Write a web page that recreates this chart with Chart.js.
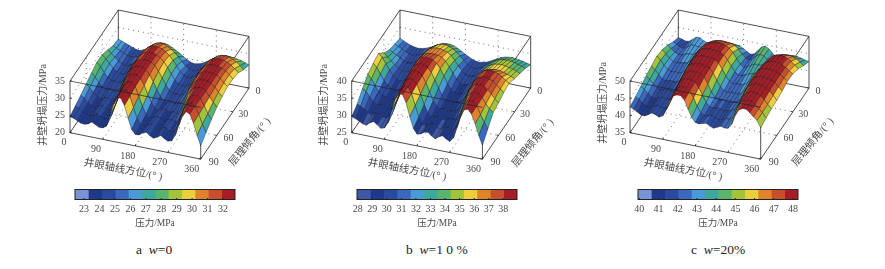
<!DOCTYPE html>
<html>
<head>
<meta charset="utf-8">
<script src="https://cdn.jsdelivr.net/npm/chart.js@4"></script>
<style>
    html, body { margin: 0; background: #fff; overflow: hidden; }
    #page { position: relative; width: 885px; height: 269px; }
    #page canvas { position: absolute; filter: blur(0.3px); }
    .caption { position: absolute; top: 242px; font: 13.5px "Liberation Serif", serif; color: #222; white-space: pre; }
    .caption i { font-style: italic; }
</style>
</head>
<body>
<div id="page"></div>
<script>
// Grid of the surfaces, degrees
const azimuths = [0, 10, 20, 30, 40, 50, 60, 70, 80, 90, 100, 110, 120, 130, 140, 150, 160, 170, 180,
    190, 200, 210, 220, 230, 240, 250, 260, 270, 280, 290, 300, 310, 320, 330, 340, 350, 360];
const dips = [0, 10, 20, 30, 40, 50, 60, 70, 80, 90];

const azimuthTicks = [0, 90, 180, 270, 360];
const dipTicks = [0, 30, 60, 90];

// Collapse pressure, one row per dip, MPa
const pressureA = [
    [26.6,26.2,25.8,25.4,25.0,24.6,24.5,24.9,25.6,26.4,27.1,27.6,27.9,28.0,27.7,27.2,26.6,26.0,25.3,24.6,24.1,23.9,24.1,24.4,25.0,25.7,26.4,27.0,27.5,27.8,28.0,28.0,27.9,27.7,27.5,27.1,26.7],
    [26.9,26.4,25.9,25.4,25.0,24.8,24.8,25.2,26.2,27.4,28.6,29.6,30.2,30.5,30.4,29.9,29.3,28.5,27.5,26.4,25.3,24.6,24.3,24.6,25.2,26.1,27.2,28.4,29.4,30.1,30.5,30.6,30.4,30.0,29.4,28.6,27.6],
    [28.0,27.2,26.3,25.4,24.8,24.5,24.7,25.5,26.8,28.4,29.9,31.0,31.6,31.9,31.8,31.5,30.9,30.0,28.8,27.4,26.0,25.0,24.6,24.8,25.4,26.6,28.1,29.6,30.8,31.5,31.9,32.0,31.8,31.4,30.8,30.0,29.0],
    [28.9,27.9,26.7,25.6,24.8,24.4,24.5,25.2,26.7,28.6,30.4,31.5,32.0,32.3,32.3,32.0,31.4,30.4,29.0,27.3,25.8,24.8,24.4,24.6,25.2,26.5,28.3,30.0,31.3,32.0,32.3,32.4,32.3,32.0,31.4,30.5,29.5],
    [29.0,27.9,26.4,25.2,24.4,24.6,24.3,24.9,26.3,28.5,30.6,31.8,32.3,32.5,32.5,32.2,31.4,30.0,28.2,26.4,25.0,24.3,24.5,24.2,24.9,26.1,28.0,30.0,31.5,32.2,32.5,32.6,32.5,32.2,31.5,30.5,29.6],
    [28.2,27.2,25.8,24.7,24.0,24.6,24.2,24.5,25.6,27.8,30.2,31.8,32.4,32.7,32.7,32.2,31.0,29.2,27.2,25.4,24.3,24.0,24.5,24.1,24.5,25.2,27.0,29.2,31.0,32.1,32.6,32.7,32.6,32.2,31.2,30.0,29.0],
    [27.2,26.4,25.2,24.3,23.7,24.3,24.4,23.9,24.6,26.4,29.0,31.2,32.4,32.8,32.8,32.0,30.2,27.8,25.7,24.3,23.8,24.4,24.5,24.0,24.4,23.9,25.2,27.4,29.8,31.6,32.5,32.8,32.8,32.2,30.8,29.4,28.2],
    [26.3,25.6,24.6,23.8,23.4,24.1,24.5,23.8,23.6,24.4,26.8,29.8,32.0,33.0,33.0,31.9,29.4,26.6,24.5,23.6,24.1,24.6,24.2,23.6,24.3,24.5,24.0,24.8,27.2,30.0,32.0,32.9,33.0,32.3,30.4,28.4,26.9],
    [25.5,24.9,24.2,23.5,23.4,23.9,24.5,23.8,23.4,23.5,25.0,28.2,31.4,33.0,33.0,31.4,28.4,25.5,23.9,23.5,24.2,24.7,23.9,23.4,24.1,24.5,23.6,23.8,25.2,28.2,31.0,32.7,33.1,32.4,30.2,27.6,25.4],
    [24.6,24.4,23.9,23.4,23.3,23.6,24.4,23.8,23.3,23.3,24.0,27.2,30.8,33.0,33.0,31.0,27.6,24.5,23.3,23.4,24.2,24.6,23.8,23.3,23.8,24.5,23.8,23.3,23.6,25.4,28.6,31.4,32.9,32.4,30.0,26.6,23.9]
];
const pressureB = [
    [31.8,31.3,30.8,30.4,30.1,30.0,30.1,30.4,30.8,31.3,31.9,32.4,32.8,33.0,33.0,32.7,32.2,31.6,31.0,30.4,29.9,29.6,29.5,29.7,30.0,30.5,31.1,31.7,32.2,32.5,32.7,32.8,32.7,32.5,32.3,32.0,31.8],
    [32.4,31.9,31.4,30.8,30.4,30.2,30.4,30.8,31.5,32.4,33.4,34.2,34.8,35.1,35.1,34.9,34.4,33.7,32.8,31.7,30.8,30.2,30.0,30.2,30.6,31.4,32.2,33.0,33.6,34.0,34.2,34.3,34.2,34.0,33.7,33.4,33.0],
    [33.0,32.5,31.9,31.3,30.7,30.3,30.4,30.9,31.9,33.3,34.6,35.6,36.1,36.3,36.3,36.1,35.7,35.0,33.8,32.4,31.2,30.3,30.0,30.2,30.8,31.8,32.9,33.9,34.6,35.0,35.2,35.3,35.1,34.9,34.6,34.3,33.8],
    [34.4,33.4,32.5,31.6,30.8,30.2,30.2,30.7,31.9,33.6,35.2,36.3,36.8,37.0,37.0,36.9,36.5,35.6,34.2,32.5,31.1,30.1,29.8,30.0,30.7,31.8,33.2,34.4,35.3,35.8,36.0,36.1,36.0,35.8,35.4,35.0,34.6],
    [36.6,35.6,34.0,32.4,31.0,30.0,29.8,30.2,31.3,33.2,35.5,37.2,38.0,38.2,38.2,37.9,37.1,35.7,33.8,31.8,30.3,29.6,29.4,29.7,30.3,31.5,33.3,35.3,36.8,37.6,38.0,38.1,38.0,37.6,37.0,36.2,35.6],
    [36.0,35.0,33.3,31.6,30.3,29.7,29.5,29.7,30.6,32.6,35.2,37.3,38.3,38.6,38.5,37.9,36.7,34.8,32.6,30.7,29.7,29.5,29.2,29.6,30.0,31.0,32.8,35.0,36.9,37.9,38.4,38.5,38.3,37.7,36.9,35.9,35.2],
    [35.0,34.0,32.2,30.7,29.7,29.6,29.3,29.4,30.0,31.6,34.4,37.0,38.4,38.8,38.6,37.8,36.0,33.6,31.2,29.8,29.2,29.5,29.0,29.4,29.6,30.2,31.8,34.0,36.4,37.9,38.5,38.7,38.4,37.6,36.6,35.4,34.4],
    [33.2,32.6,31.2,30.0,29.2,29.7,29.4,28.9,29.2,30.4,33.0,36.0,38.2,38.9,38.8,37.6,35.0,32.2,29.9,28.9,29.3,29.7,29.0,29.0,29.6,29.7,30.0,31.9,34.6,37.1,38.3,38.8,38.6,37.5,36.0,34.8,33.9],
    [31.0,30.6,29.9,29.2,28.6,29.4,29.5,28.8,28.6,29.3,31.2,34.8,37.8,39.0,38.9,37.2,34.0,30.8,29.0,28.7,29.4,29.7,28.9,28.5,29.3,29.5,29.0,29.8,32.2,35.4,37.6,38.6,38.7,37.4,35.2,33.2,31.4],
    [29.6,29.3,28.8,28.2,28.0,28.9,29.5,28.8,28.0,28.3,30.0,33.8,37.4,39.2,39.0,36.8,33.0,29.8,28.4,28.7,29.4,29.6,28.7,28.1,28.9,29.4,28.7,28.2,29.4,32.6,36.0,38.2,38.6,37.4,34.8,31.6,29.0]
];
const pressureC = [
    [42.0,41.8,41.4,41.6,42.4,43.2,43.2,42.6,42.2,42.3,42.5,42.8,43.0,43.2,43.3,43.3,43.3,43.2,42.6,41.9,41.4,41.8,43.0,44.2,44.6,44.0,43.0,41.9,41.6,42.2,43.0,43.4,43.5,43.4,43.2,42.9,42.7],
    [43.0,42.5,41.9,41.8,42.4,43.2,43.3,43.0,43.2,43.9,44.8,45.6,46.0,46.2,46.2,46.1,46.0,45.6,44.8,43.6,42.6,42.2,42.9,43.9,44.5,44.2,43.5,43.4,44.0,45.0,45.7,45.9,45.9,45.7,45.3,44.6,43.8],
    [44.4,43.6,42.7,42.3,42.4,42.9,43.1,43.1,43.9,45.2,46.5,47.4,47.8,48.0,48.0,47.9,47.6,47.1,46.1,44.5,43.1,42.4,42.7,43.4,44.0,44.0,44.0,45.0,46.4,47.4,47.9,48.0,47.9,47.5,46.9,46.0,45.2],
    [45.3,44.4,43.3,42.6,42.4,42.6,42.8,43.0,44.0,45.6,47.0,47.9,48.2,48.3,48.3,48.2,47.9,47.4,46.2,44.6,43.2,42.4,42.5,43.0,43.4,43.6,44.2,45.6,47.2,48.0,48.3,48.4,48.3,48.0,47.4,46.6,46.0],
    [45.8,44.8,43.5,42.5,42.1,42.3,42.2,42.5,43.6,45.5,47.3,48.2,48.4,48.5,48.5,48.4,48.1,47.3,45.8,44.0,42.8,42.2,42.4,42.4,42.7,43.3,44.6,46.3,47.7,48.3,48.5,48.5,48.4,48.2,47.7,46.9,46.2],
    [45.2,44.3,43.1,42.1,41.7,42.0,42.0,42.0,43.0,44.9,47.0,48.1,48.5,48.6,48.6,48.4,47.9,46.7,44.9,43.2,42.2,42.0,42.2,42.1,42.2,42.8,44.0,45.9,47.5,48.3,48.6,48.6,48.5,48.2,47.6,46.6,45.6],
    [44.6,43.8,42.7,41.8,41.4,41.8,41.9,41.7,42.4,44.2,46.6,48.0,48.5,48.7,48.7,48.4,47.6,45.8,43.8,42.4,41.9,42.1,42.0,41.9,42.0,42.4,43.4,45.4,47.3,48.2,48.6,48.7,48.6,48.2,47.5,46.4,45.2],
    [43.8,43.2,42.2,41.4,41.0,41.6,42.0,41.6,41.8,43.2,45.8,47.8,48.5,48.7,48.7,48.3,46.9,44.9,43.0,42.0,41.8,42.2,41.9,41.5,41.9,42.2,42.6,44.3,46.6,48.0,48.6,48.7,48.6,48.1,47.2,46.1,45.0],
    [43.1,42.6,41.8,41.0,40.8,41.4,42.0,41.6,41.5,42.4,44.8,47.3,48.4,48.7,48.7,48.0,46.2,44.0,42.3,41.7,41.8,42.2,41.7,41.3,41.7,42.2,42.1,43.2,45.6,47.6,48.4,48.7,48.6,47.9,46.9,46.0,44.6],
    [42.5,42.0,41.4,40.8,40.7,41.3,42.0,41.7,41.2,41.8,43.8,46.8,48.3,48.7,48.7,47.6,45.2,43.0,41.8,41.6,41.9,42.2,41.6,41.2,41.7,42.2,41.9,42.0,43.4,46.2,48.0,48.6,48.6,47.8,46.8,46.0,44.0]
];

const zTicksA = [20, 25, 30, 35];
const zTicksB = [25, 30, 35, 40];
const zTicksC = [35, 40, 45, 50];

const barTicksA = [23, 24, 25, 26, 27, 28, 29, 30, 31, 32];
const barTicksB = [28, 29, 30, 31, 32, 33, 34, 35, 36, 37, 38];
const barTicksC = [40, 41, 42, 43, 44, 45, 46, 47, 48];

const barRangeA = [22.41, 32.78];
const barRangeB = [27.95, 38.94];
const barRangeC = [39.93, 48.26];

const levelColorsA = ['#7a92d6', '#1d3a8a', '#2a4a9e', '#3a68bc', '#4a9ad8', '#3ea89e', '#5ab56c', '#a2c43a', '#ecce3e', '#df842a', '#c84f2e', '#a51d25'];
const levelColorsB = ['#3f58a6', '#1d3a8a', '#2a4a9e', '#3a68bc', '#4a9ad8', '#3ea89e', '#5ab56c', '#a2c43a', '#ecce3e', '#df842a', '#c84f2e', '#a51d25'];
const levelColorsC = levelColorsA;

const FONT = '"Liberation Serif", "Noto Sans CJK SC", serif';
const TEXT_COLOR = '#4a4a4a';

Chart.defaults.animation = false;
Chart.defaults.events = [];

const page = document.getElementById('page');

function addCanvas(left, top, width, height) {
    const canvas = document.createElement('canvas');
    canvas.style.left = left + 'px';
    canvas.style.top = top + 'px';
    canvas.style.width = width + 'px';
    canvas.style.height = height + 'px';
    canvas.width = width;
    canvas.height = height;
    page.appendChild(canvas);
    return canvas;
}

// Colour of a pressure value, same bins as the colour bar
function levelColor(value, range, colors) {
    const step = (range[1] - range[0]) / colors.length;
    const i = Math.floor((value - range[0]) / step);
    return colors[Math.max(0, Math.min(colors.length - 1, i))];
}

function lineSet(points, color, width, dash) {
    return {
        data: points, showLine: true, fill: false, pointRadius: 0, tension: 0,
        borderColor: color, borderWidth: width, borderDash: dash || []
    };
}

function renderSurface(cfg) {
    const zMin = cfg.zTicks[0];
    const zMax = cfg.zTicks[cfg.zTicks.length - 1];

    // Box projection, oblique view of azimuth / dip / pressure
    const project = (az, dip, z) => ({
        x: cfg.originX + az / 360 * 130.7 + (90 - dip) / 90 * 48.3,
        y: 132.7 + az / 360 * 26.4 - (90 - dip) / 90 * 71 - (z - zMin) / (zMax - zMin) * 51.7
    });

    const back = [];   // walls and floor grid, painted first
    const boxLine = (a, b) => lineSet([project(...a), project(...b)], '#222', 0.8);
    const gridLine = (a, b) => lineSet([project(...a), project(...b)], '#333', 0.7, [1, 4]);

    back.push(boxLine([0, 0, zMin], [0, 0, zMax]));
    back.push(boxLine([0, 0, zMax], [360, 0, zMax]));
    back.push(boxLine([0, 0, zMax], [0, 90, zMax]));
    back.push(boxLine([360, 0, zMin], [360, 0, zMax]));
    back.push(boxLine([0, 0, zMin], [360, 0, zMin]));
    back.push(boxLine([0, 0, zMin], [0, 90, zMin]));
    back.push(boxLine([360, 90, zMax], [360, 0, zMax]));
    back.push(boxLine([360, 90, zMin], [360, 90, zMax]));
    azimuthTicks.slice(1, -1).forEach(az => {
        back.push(gridLine([az, 0, zMin], [az, 0, zMax]));
        back.push(gridLine([az, 0, zMin], [az, 90, zMin]));
    });
    dipTicks.slice(1, -1).forEach(dip => {
        back.push(gridLine([0, dip, zMin], [0, dip, zMax]));
        back.push(gridLine([0, dip, zMin], [360, dip, zMin]));
    });
    cfg.zTicks.slice(1, -1).forEach(z => {
        back.push(gridLine([0, 0, z], [360, 0, z]));
        back.push(gridLine([0, 0, z], [0, 90, z]));
    });

    // Surface cells from the back row to the front row
    const cells = [];
    for (let r = 0; r < dips.length - 1; r++) {
        for (let c = 0; c < azimuths.length - 1; c++) {
            const v = cfg.values;
            const mean = (v[r][c] + v[r][c + 1] + v[r + 1][c] + v[r + 1][c + 1]) / 4;
            const p1 = project(azimuths[c], dips[r], v[r][c]);
            const p2 = project(azimuths[c + 1], dips[r], v[r][c + 1]);
            const p3 = project(azimuths[c + 1], dips[r + 1], v[r + 1][c + 1]);
            const p4 = project(azimuths[c], dips[r + 1], v[r + 1][c]);
            cells.push({
                data: [p1, p2, p3, p4, p1], showLine: true, fill: 'shape', pointRadius: 0, tension: 0,
                backgroundColor: levelColor(mean, cfg.barRange, cfg.colors),
                borderColor: 'rgba(15,10,20,0.7)', borderWidth: 0.55
            });
        }
    }

    // Edges in front of the surface
    const front = [
        boxLine([0, 90, zMin], [0, 90, zMax]),
        boxLine([0, 90, zMin], [360, 90, zMin]),
        boxLine([360, 90, zMin], [360, 0, zMin]),
        lineSet([project(0, 90, zMax), project(360, 90, zMax)], '#222', 0.7)
    ];

    // Chart.js paints the last dataset first
    const datasets = front.concat(cells.reverse(), back.reverse());

    const labelsPlugin = {
        id: 'boxLabels',
        afterDraw(chart) {
            const ctx = chart.ctx;
            const sx = chart.scales.x;
            const sy = chart.scales.y;
            const put = (text, x, y, angle, size, align) => {
                ctx.save();
                ctx.translate(sx.getPixelForValue(x), sy.getPixelForValue(y));
                ctx.rotate((angle || 0) * Math.PI / 180);
                ctx.font = (size || 10) + 'px ' + FONT;
                ctx.fillStyle = TEXT_COLOR;
                ctx.textAlign = align || 'center';
                ctx.textBaseline = 'middle';
                ctx.fillText(text, 0, 0);
                ctx.restore();
            };
            const tickMark = (a, b) => {
                ctx.beginPath();
                ctx.moveTo(sx.getPixelForValue(a.x), sy.getPixelForValue(a.y));
                ctx.lineTo(sx.getPixelForValue(b.x), sy.getPixelForValue(b.y));
                ctx.strokeStyle = '#222';
                ctx.lineWidth = 0.8;
                ctx.stroke();
            };
            cfg.zTicks.forEach(z => {
                const p = project(0, 90, z);
                put(String(z), p.x - 5, p.y, 0, 10, 'right');
                tickMark(p, { x: p.x + 2, y: p.y });
            });
            azimuthTicks.forEach(az => {
                const p = project(az, 90, zMin);
                put(String(az), p.x - 6 - az / 360 * 3, p.y + 10, 0, 10);
                tickMark(p, { x: p.x + 0.6, y: p.y - 2 });
            });
            dipTicks.forEach(dip => {
                const p = project(360, dip, zMin);
                put(String(dip), p.x + 9 + (dip / 90) * 4, p.y + 3, 0, 10);
                tickMark(p, { x: p.x - 2, y: p.y - 0.4 });
            });
            put('井壁坍塌压力/MPa', cfg.zTitle[0], cfg.zTitle[1], -90, 10);
            put('井眼轴线方位/(° )', cfg.azTitle[0], cfg.azTitle[1], 10.8, 10.5);
            put('层理倾角/(° )', cfg.dipTitle[0], cfg.dipTitle[1], -50.6, 10.5);
        }
    };

    const canvas = addCanvas(cfg.left, 0, 270, 190);
    new Chart(canvas, {
        type: 'scatter',
        data: { datasets: datasets },
        options: {
            responsive: false,
            layout: { padding: 0 },
            plugins: { legend: { display: false }, tooltip: { enabled: false } },
            scales: {
                x: { type: 'linear', min: 0, max: 270, display: false },
                y: { type: 'linear', min: 0, max: 190, reverse: true, display: false }
            }
        },
        plugins: [labelsPlugin]
    });
}

function renderColorBar(cfg) {
    const edges = cfg.colors.map((c, i) => cfg.barRange[0] + i * (cfg.barRange[1] - cfg.barRange[0]) / cfg.colors.length);
    const step = edges[1] - edges[0];

    const framePlugin = {
        id: 'barFrame',
        afterDatasetsDraw(chart) {
            const { ctx, chartArea: a, scales } = chart;
            ctx.save();
            ctx.strokeStyle = '#222';
            ctx.lineWidth = 1;
            ctx.strokeRect(a.left, a.top + 0.5, a.right - a.left, a.bottom - a.top - 1);
            cfg.barTicks.forEach(v => {
                const x = scales.x.getPixelForValue(v);
                ctx.beginPath();
                ctx.moveTo(x, a.bottom);
                ctx.lineTo(x, a.bottom - 2);
                ctx.stroke();
            });
            ctx.restore();
        }
    };

    const canvas = addCanvas(cfg.barLeft - 12, 189, 184, 40);
    new Chart(canvas, {
        type: 'bar',
        data: {
            labels: ['压力'],
            datasets: cfg.colors.map((color, i) => ({
                data: [[edges[i], edges[i] + step]],
                backgroundColor: color,
                grouped: false,
                barPercentage: 1,
                categoryPercentage: 1
            }))
        },
        options: {
            indexAxis: 'y',
            responsive: false,
            layout: { padding: { left: 12, right: 12, top: 0, bottom: 0 } },
            plugins: { legend: { display: false }, tooltip: { enabled: false } },
            scales: {
                y: { display: false },
                x: {
                    type: 'linear',
                    min: cfg.barRange[0],
                    max: cfg.barRange[1],
                    afterBuildTicks: scale => { scale.ticks = cfg.barTicks.map(v => ({ value: v })); },
                    afterFit: scale => { scale.height = 29; },
                    grid: { display: false, drawTicks: false },
                    border: { display: false },
                    ticks: {
                        color: TEXT_COLOR, font: { family: FONT, size: 10 },
                        padding: 3, maxRotation: 0, autoSkip: false
                    },
                    title: {
                        display: true, text: '压力/MPa', color: TEXT_COLOR,
                        font: { family: FONT, size: 9.5 }, padding: { top: 2, bottom: 0 }
                    }
                }
            }
        },
        plugins: [framePlugin]
    });
}

function addCaption(left, html) {
    const div = document.createElement('div');
    div.className = 'caption';
    div.style.left = left + 'px';
    div.innerHTML = html;
    page.appendChild(div);
}

renderSurface({ left: 30, originX: 40, values: pressureA, zTicks: zTicksA, barRange: barRangeA, colors: levelColorsA,
    zTitle: [13, 105], azTitle: [93, 170], dipTitle: [220, 142] });
renderSurface({ left: 310, originX: 41.7, values: pressureB, zTicks: zTicksB, barRange: barRangeB, colors: levelColorsB,
    zTitle: [14, 105], azTitle: [97, 170], dipTitle: [223, 143] });
renderSurface({ left: 590, originX: 40, values: pressureC, zTicks: zTicksC, barRange: barRangeC, colors: levelColorsC,
    zTitle: [13, 103], azTitle: [93, 170], dipTitle: [223, 142] });

renderColorBar({ barLeft: 75.3, barRange: barRangeA, barTicks: barTicksA, colors: levelColorsA });
renderColorBar({ barLeft: 357.3, barRange: barRangeB, barTicks: barTicksB, colors: levelColorsB });
renderColorBar({ barLeft: 638.3, barRange: barRangeC, barTicks: barTicksC, colors: levelColorsC });

addCaption(136, 'a  <i>w</i>=0');
addCaption(406, 'b  <i>w</i>=1 0 %');
addCaption(691, 'c  <i>w</i>=20%');
</script>
</body>
</html>
